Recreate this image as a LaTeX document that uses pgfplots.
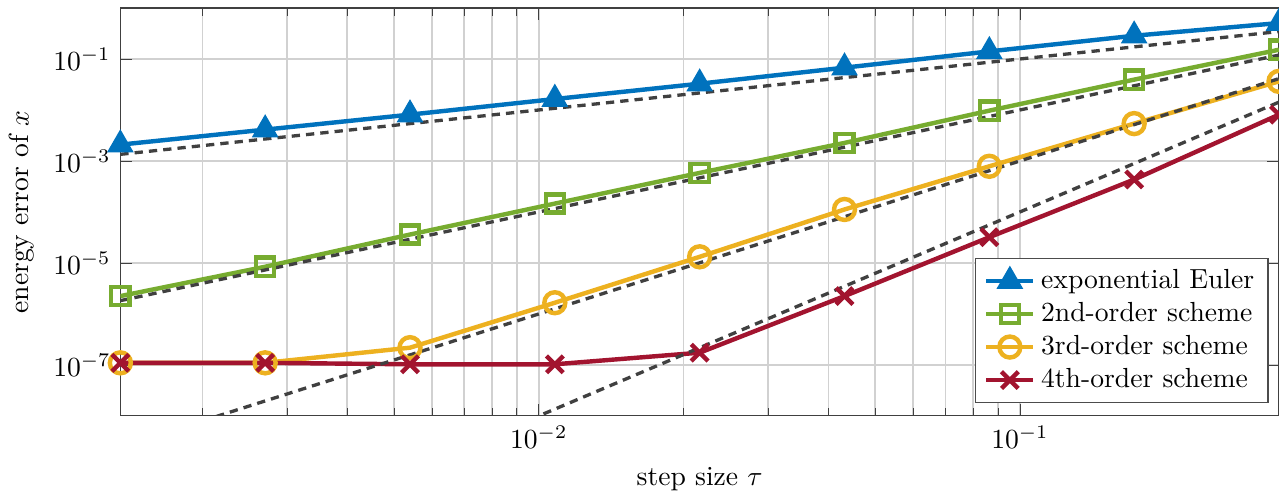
\documentclass[border=0pt]{standalone}
\usepackage{pgfplots}
\pgfplotsset{compat=1.18}
\definecolor{mblue}{RGB}{0,114,189}
\definecolor{mgreen}{RGB}{119,172,48}
\definecolor{myellow}{RGB}{237,177,32}
\definecolor{mred}{RGB}{162,20,47}
\begin{document}
\begin{tikzpicture}[trim axis right]
\begin{axis}[
  xmode=log, ymode=log,
  scale only axis,
  width=419.5pt, height=147.7pt,
  xmin=0.00135, xmax=0.3456,
  ymin=1e-8, ymax=1,
  ytick={1e-7,1e-5,1e-3,1e-1},
  yminorticks=false,
  xtick={1e-3,1e-2,1e-1},
  grid=both,
  major grid style={black!18, line width=0.6pt},
  minor grid style={black!18, line width=0.6pt},
  axis line style={black!75},
  tick style={black!75},
  xlabel={step size $\tau$},
  ylabel={energy error of $x$},
  legend style={at={(0.991,0.031)}, anchor=south east, draw=black!70, row sep=-0.5pt},
  legend cell align=left,
  every axis plot/.append style={line width=1.6pt},
]
\addplot[mblue, mark=triangle*, mark size=4pt, mark options={solid}] coordinates {
(0.00135,2.09e-3) (0.0027,4.12e-3) (0.0054,8.11e-3) (0.0108,1.64e-2) (0.0216,3.28e-2)
(0.0432,6.76e-2) (0.0864,0.141) (0.1728,0.286) (0.3456,0.507)};
\addlegendentry{exponential Euler}
\addplot[mgreen, mark=square, mark size=3.3pt, mark options={solid}] coordinates {
(0.00135,2.24e-6) (0.0027,8.43e-6) (0.0054,3.61e-5) (0.0108,1.46e-4) (0.0216,5.84e-4)
(0.0432,2.26e-3) (0.0864,9.71e-3) (0.1728,3.94e-2) (0.3456,0.152)};
\addlegendentry{2nd-order scheme}
\addplot[myellow, mark=o, mark size=3.8pt, mark options={solid}] coordinates {
(0.00135,1.1e-7) (0.0027,1.1e-7) (0.0054,2.18e-7) (0.0108,1.66e-6) (0.0216,1.32e-5)
(0.0432,1.12e-4) (0.0864,7.87e-4) (0.1728,5.41e-3) (0.3456,3.64e-2)};
\addlegendentry{3rd-order scheme}
\addplot[mred, mark=x, mark size=4.3pt, mark options={solid}] coordinates {
(0.00135,1.1e-7) (0.0027,1.1e-7) (0.0054,1.03e-7) (0.0108,1.03e-7) (0.0216,1.74e-7)
(0.0432,2.24e-6) (0.0864,3.20e-5) (0.1728,4.33e-4) (0.3456,8.11e-3)};
\addlegendentry{4th-order scheme}
\addplot[black!75, line width=1.2pt, dash pattern=on 3pt off 2.2pt, forget plot] coordinates {(0.00135,0.00135) (0.3456,0.3456)};
\addplot[black!75, line width=1.2pt, dash pattern=on 3pt off 2.2pt, forget plot] coordinates {(0.00135,1.8225e-6) (0.3456,0.11944)};
\addplot[black!75, line width=1.2pt, dash pattern=on 3pt off 2.2pt, forget plot] coordinates {(0.00135,2.4604e-9) (0.3456,0.041278)};
\addplot[black!75, line width=1.2pt, dash pattern=on 3pt off 2.2pt, forget plot] coordinates {(0.00135,3.3215e-12) (0.3456,0.014266)};
\end{axis}
\path ([yshift=2.9pt]current axis.north);
\end{tikzpicture}
\end{document}
